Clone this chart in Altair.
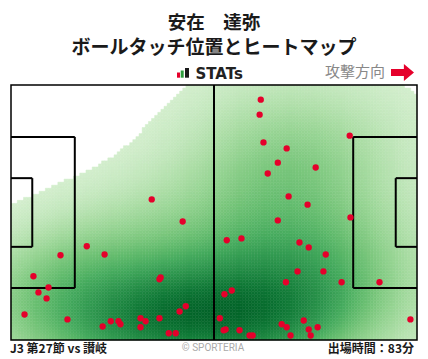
import altair as alt
import numpy as np
import pandas as pd

# ---------------- data (pitch units: 105 x 68, y measured from top edge) -------------
touch_x = [36.4, 44.4, 64.6, 64.3, 87.6, 65.3, 71.3, 69.0, 78.8, 66.4, 71.8, 76.7,
           69.0, 87.8, 19.6, 12.8, 24.2, 5.8, 9.7, 7.1, 9.2, 38.7, 38.4, 3.5,
           14.6, 23.7, 25.8, 27.8, 28.3, 33.5, 34.8, 33.5, 38.4, 43.6, 45.2, 40.8,
           42.6, 55.8, 59.6, 74.6, 77.0, 81.4, 74.1, 80.8, 71.1, 85.5, 95.3, 57.1,
           55.2, 54.0, 75.7, 70.0, 71.3, 79.3, 77.0, 55.5, 55.0, 59.1, 61.7, 62.5,
           72.3, 77.5, 103.3]
touch_y = [30.5, 36.4, 3.9, 7.9, 13.5, 15.3, 16.9, 20.7, 22.0, 23.6, 29.7, 31.9,
           36.1, 35.3, 43.0, 45.4, 45.2, 51.0, 54.0, 55.3, 56.9, 51.3, 51.8, 61.2,
           62.5, 64.4, 63.0, 63.0, 63.8, 62.2, 63.0, 64.6, 62.2, 60.4, 59.0, 66.2,
           66.2, 41.4, 40.9, 42.0, 43.3, 45.2, 49.7, 49.7, 52.6, 52.6, 52.6, 54.8,
           55.8, 62.2, 62.8, 63.8, 64.6, 64.6, 65.2, 65.2, 65.4, 65.4, 66.8, 66.8,
           66.8, 66.8, 62.5]

# pitch markings (segments)
line_x1 = [52.5, 0, 16.5, 16.5, 0, 5.5, 5.5, 105, 88.5, 88.5, 105, 99.5, 99.5]
line_y1 = [0, 13.84, 13.84, 54.16, 24.84, 24.84, 43.16, 13.84, 13.84, 54.16, 24.84, 24.84, 43.16]
line_x2 = [52.5, 16.5, 16.5, 0, 5.5, 5.5, 0, 88.5, 88.5, 105, 99.5, 99.5, 105]
line_y2 = [68, 13.84, 54.16, 54.16, 24.84, 43.16, 43.16, 13.84, 54.16, 54.16, 24.84, 43.16, 43.16]

title_lines = ["安在　達弥", "ボールタッチ位置とヒートマップ"]
brand_text = "STATs"
direction_text = "攻撃方向"
match_text = "J3 第27節 vs 讃岐"
credit_text = "© SPORTERIA"
minutes_text = "出場時間：83分"

# ---------------- KDE heatmap derived from the touch points ----------------
pts = np.column_stack([touch_x, touch_y])
n = len(pts)
S = np.diag([1.4, 1.25]) * n ** (-1.0 / 6.0)
kcov = S @ np.cov(pts.T) @ S
inv = np.linalg.inv(kcov)


def kde(grid):
    out = np.zeros(len(grid))
    for p in pts:
        d = grid - p
        out += np.exp(-0.5 * np.einsum("ij,jk,ik->i", d, inv, d))
    return out


# iso-proportion threshold over the extended support (cut = 3 bandwidths)
bw = np.sqrt(np.diag(kcov))
ex = np.linspace(pts[:, 0].min() - 3 * bw[0], pts[:, 0].max() + 3 * bw[0], 200)
ey = np.linspace(pts[:, 1].min() - 3 * bw[1], pts[:, 1].max() + 3 * bw[1], 200)
EX, EY = np.meshgrid(ex, ey)
ed = kde(np.column_stack([EX.ravel(), EY.ravel()]))
srt = np.sort(ed)
cum = np.cumsum(srt) / srt.sum()
lvl = srt[np.searchsorted(cum, 0.035)]

nx, ny = 130, 84
xe = np.linspace(0, 105, nx + 1)
ye = np.linspace(0, 68, ny + 1)
xc = (xe[:-1] + xe[1:]) / 2
yc = (ye[:-1] + ye[1:]) / 2
GX, GY = np.meshgrid(xc, yc)
dens = kde(np.column_stack([GX.ravel(), GY.ravel()]))
t = (dens - lvl) / (ed.max() - lvl)
X0, Y0 = np.meshgrid(xe[:-1], ye[:-1])
X1, Y1 = np.meshgrid(xe[1:], ye[1:])
heat = pd.DataFrame({"x0": X0.ravel(), "x1": X1.ravel(), "y0": Y0.ravel(),
                     "y1": Y1.ravel(), "t": np.round(t, 4)})
heat = heat[heat.t >= 0]

xs = alt.Scale(domain=[0, 105], nice=False, zero=False)
ys = alt.Scale(domain=[0, 68], nice=False, zero=False, reverse=True)
cs = alt.Scale(scheme="greens", domain=[0, 1])

heat_layer = alt.Chart(heat).mark_rect(strokeWidth=0.5).encode(
    x=alt.X("x0:Q", scale=xs, axis=None), x2="x1:Q",
    y=alt.Y("y0:Q", scale=ys, axis=None), y2="y1:Q",
    color=alt.Color("t:Q", scale=cs, legend=None),
    stroke=alt.Stroke("t:Q", scale=cs, legend=None),
)

lines = pd.DataFrame({"x1": line_x1, "y1": line_y1, "x2": line_x2, "y2": line_y2})
line_layer = alt.Chart(lines).mark_rule(color="black", strokeWidth=2).encode(
    x=alt.X("x1:Q", scale=xs, axis=None), x2="x2:Q",
    y=alt.Y("y1:Q", scale=ys, axis=None), y2="y2:Q",
)

border = pd.DataFrame({"x1": [0], "y1": [0], "x2": [105], "y2": [68]})
border_layer = alt.Chart(border).mark_rect(filled=False, stroke="black", strokeWidth=1.5).encode(
    x=alt.X("x1:Q", scale=xs, axis=None), x2="x2:Q",
    y=alt.Y("y1:Q", scale=ys, axis=None), y2="y2:Q",
)

touches = pd.DataFrame({"x": touch_x, "y": touch_y})
point_layer = alt.Chart(touches).mark_circle(size=40, color="#e5002b", opacity=1).encode(
    x=alt.X("x:Q", scale=xs, axis=None),
    y=alt.Y("y:Q", scale=ys, axis=None),
)

JP = "Noto Sans CJK JP"


def txt(s, x, y, size, color="#1a1a1a", weight="bold", align="center", font=JP, baseline="middle"):
    return alt.Chart(pd.DataFrame({"s": [s]})).mark_text(
        fontSize=size, font=font, fontWeight=weight, color=color, align=align, baseline=baseline
    ).encode(text="s:N", x=alt.value(x), y=alt.value(y))


def bar(x1, x2, y1, y2, color):
    return alt.Chart(pd.DataFrame({"a": [0]})).mark_rect(color=color).encode(
        x=alt.value(x1), x2=alt.value(x2), y=alt.value(y1), y2=alt.value(y2))


arrow_shape = "M-1,-0.3L0.12,-0.3L0.12,-0.74L1,0L0.12,0.74L0.12,0.3L-1,0.3Z"
arrow = alt.Chart(pd.DataFrame({"a": [0]})).mark_point(
    shape=arrow_shape, filled=True, color="#e5002b", size=529, opacity=1, strokeWidth=0
).encode(x=alt.value(391.5), y=alt.value(-12.5))

layers = [
    heat_layer, line_layer, border_layer, point_layer,
    txt(title_lines[0], 203, -62.5, 18.5),
    txt(title_lines[1], 203, -37.5, 19),
    bar(166, 169, -12.5, -7.3, "#e5002b"),
    bar(169.7, 172.7, -14.5, -7.3, "#2e9e3e"),
    bar(174, 178, -17, -7.3, "#1a1a1a"),
    txt(brand_text, 184.5, -6.5, 15, color="#222222", align="left", font="DejaVu Sans", baseline="alphabetic"),
    txt(direction_text, 374, -13.5, 15, color="#888888", weight="normal", align="right"),
    arrow,
    txt(match_text, -1, 263.5, 12, align="left"),
    txt(credit_text, 202, 263, 10, color="#aaaaaa", weight="normal", font="Roboto"),
    txt(minutes_text, 403, 263.5, 12, align="right"),
]

chart = alt.layer(*layers).properties(
    width=406, height=255,
    autosize=alt.AutoSizeParams(type="none"),
    padding={"left": 3, "top": 77, "right": 3, "bottom": 19},
).configure_view(strokeWidth=0)

chart.save("out.html", embed_options={"renderer": "svg", "actions": False})
